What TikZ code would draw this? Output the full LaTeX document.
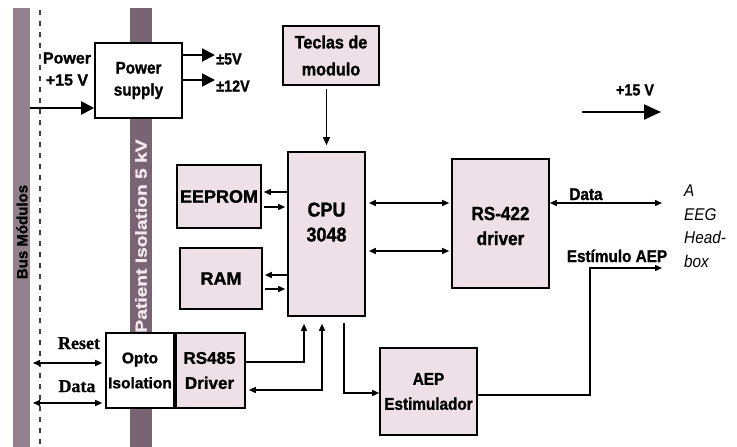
\documentclass[tikz,border=0pt]{standalone}
\usepackage{fontspec}
\setmainfont{Liberation Sans}[BoldFeatures={FakeBold=1.2}]
\newfontfamily\cnd{Liberation Sans}[FakeStretch=0.9, BoldFeatures={FakeBold=1.2}]
\newfontfamily\srf{Liberation Serif}[BoldFeatures={FakeBold=1}]
\usetikzlibrary{arrows.meta}
\definecolor{pinkfill}{RGB}{238,224,231}
\definecolor{barA}{RGB}{146,130,141}
\definecolor{barB}{RGB}{120,100,114}
\definecolor{barTxt}{RGB}{242,232,238}
\begin{document}
\begin{tikzpicture}[x=1pt,y=-1pt,
  blk/.style={draw=black, line width=1.6pt, fill=pinkfill, inner sep=0pt, align=center},
  wblk/.style={blk, fill=white},
  txt/.style={inner sep=0pt, align=center, font=\cnd\bfseries\fontsize{#1}{#1}\selectfont},
  conn/.style={line width=1.4pt},
  sm/.style={conn, -{Triangle[length=7pt,width=6pt]}},
  smb/.style={conn, {Triangle[length=7pt,width=6pt]}-{Triangle[length=7pt,width=6pt]}},
  big/.style={line width=2pt, -{Triangle[length=13pt,width=13pt]}},
]
\useasboundingbox (0,0) rectangle (737,447);
\fill[white] (0,0) rectangle (737,447);

% bars
\fill[barA] (13,8) rectangle (30,447);
\fill[barB] (130,8) rectangle (152,447);
\draw[dash pattern=on 5pt off 6pt, line width=1.1pt, black!75] (40,10) -- (40,447);
\node[rotate=90, inner sep=0pt, text=black, font=\bfseries\fontsize{15}{15}\selectfont] (bustxt) at (22,232) {Bus Módulos};
\node[rotate=90, inner sep=0pt, text=barTxt, font=\bfseries\fontsize{16}{16}\selectfont] (isotxt) at (141,236) {\scalebox{1.2}[1]{Patient Isolation 5 kV}};

% boxes
\node[wblk, minimum width=87pt, minimum height=75pt, font=\cnd\bfseries\fontsize{17}{22}\selectfont] (ps) at (138.5,80.5) {Power\\supply};
\node[blk, minimum width=96pt, minimum height=59pt, font=\cnd\bfseries\fontsize{18}{27}\selectfont] (tec) at (331,55.5) {Teclas de\\modulo};
\node[blk, minimum width=77pt, minimum height=164pt] (cpu) at (326.5,234) {};
\node[txt=20, text depth=0pt] (cputxt) at (326.5,222) {CPU\\[5pt]3048};
\node[blk, minimum width=84pt, minimum height=63pt, font=\bfseries\fontsize{18}{18}\selectfont] (eep) at (219,196.5) {EEPROM};
\node[blk, minimum width=82pt, minimum height=61pt, font=\bfseries\fontsize{18}{18}\selectfont] (ram) at (221,278.5) {RAM};
\node[blk, minimum width=97pt, minimum height=129pt] (rs422) at (500.5,223.5) {};
\node[txt=19] (rs422txt) at (500.5,226) {RS-422\\[6pt]driver};
\node[wblk, minimum width=68pt, minimum height=75pt, font=\bfseries\fontsize{15.5}{25}\selectfont] (opto) at (140,370.5) {Opto\\Isolation};
\node[blk, minimum width=71pt, minimum height=75pt, font=\bfseries\fontsize{17}{25}\selectfont] (rs485) at (209.5,370.5) {RS485\\Driver};
\draw[line width=3.5pt] (opto.north east) -- (opto.south east);
\node[blk, minimum width=97pt, minimum height=87pt, font=\cnd\bfseries\fontsize{17}{25}\selectfont] (aep) at (428.5,391.5) {AEP\\Estimulador};

% power
\coordinate (busP) at (30,108);
\draw[big] (busP) -- (ps.west |- busP);
\node[inner sep=0pt, align=center, text depth=0pt, font=\bfseries\fontsize{16}{16}\selectfont] (pwrlbl) at (67,69) {Power\\[6pt]+15 V};
\coordinate (v5) at (215,55);
\coordinate (v12) at (215,80);
\draw[big] (ps.east |- v5) -- (v5);
\draw[big] (ps.east |- v12) -- (v12);
\node[txt=16, anchor=west] (v5lbl) at (216,59) {±5V};
\node[txt=16, anchor=west] (v12lbl) at (216,86) {±12V};

% +15V
\coordinate (p15a) at (582,112);
\coordinate (p15b) at (661,112);
\draw[line width=2.2pt, -{Triangle[length=17pt,width=15pt]}] (p15a) -- (p15b);
\node[txt=16] (p15lbl) at (635,90) {+15 V};

% Teclas -> CPU
\draw[conn, -{Triangle[length=8pt,width=7pt]}, shorten <=3pt, shorten >=6pt] (tec.south -| cpu.north) -- (cpu.north);

% CPU <-> EEPROM, RAM
\draw[sm, shorten >=2pt] (cpu.west |- 0,192) -- (eep.east |- 0,192);
\draw[sm, shorten <=2pt, shorten >=2pt] (eep.east |- 0,207) -- (cpu.west |- 0,207);
\draw[sm, shorten >=2pt] (cpu.west |- 0,275) -- (ram.east |- 0,275);
\draw[sm, shorten <=2pt, shorten >=2pt] (ram.east |- 0,289) -- (cpu.west |- 0,289);

% CPU <-> RS-422
\draw[smb, shorten <=3pt, shorten >=2pt] (cpu.east |- 0,203) -- (rs422.west |- 0,203);
\draw[smb, shorten <=3pt, shorten >=2pt] (cpu.east |- 0,251) -- (rs422.west |- 0,251);

% Data to head-box
\coordinate (dEnd) at (662,203);
\draw[smb] (rs422.east |- dEnd) -- (dEnd);
\node[txt=17, anchor=base] (datalbl) at (586,200) {Data};

% Estimulo AEP
\coordinate (stEnd) at (662,268);
\draw[sm] (aep.east |- 0,395) -| (stEnd -| 590,0) -- (stEnd);
\node[txt=17, anchor=base] (stlbl) at (617,262) {Estímulo AEP};

% head-box label
\node[anchor=north west, inner sep=0pt, align=left, font=\cnd\itshape\fontsize{17}{23.5}\selectfont] (hb) at (684,185) {A\\EEG\\Head-\\box};

% RS485 <-> CPU, CPU -> AEP
\draw[sm, shorten >=7pt] (rs485.east |- 0,362) -| (cpu.south -| 304,0);
\draw[smb, shorten <=7pt, shorten >=3pt] (cpu.south -| 322,0) |- (rs485.east |- 0,390);
\draw[sm, shorten <=6pt] (cpu.south -| 344,0) |- (aep.west |- 0,393);

% Reset / Data to bus
\coordinate (rL) at (33,363);
\coordinate (dL) at (33,403);
\draw[smb, shorten >=3pt] (rL) -- (opto.west |- rL);
\draw[smb, shorten >=3pt] (dL) -- (opto.west |- dL);
\node[inner sep=0pt, anchor=base, font=\srf\bfseries\fontsize{18}{18}\selectfont] (resetlbl) at (79,349) {Reset};
\node[inner sep=0pt, anchor=base, font=\srf\bfseries\fontsize{18}{18}\selectfont] (datalbl2) at (77,392) {Data};
\end{tikzpicture}
\end{document}
